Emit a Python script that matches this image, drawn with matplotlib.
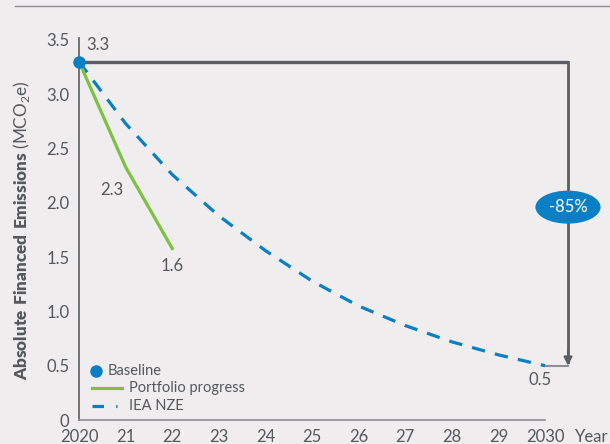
import numpy as np
import matplotlib
matplotlib.use("Agg")
import matplotlib.pyplot as plt
from matplotlib.lines import Line2D

# data
years = [2020, 2021, 2022, 2023, 2024, 2025, 2026, 2027, 2028, 2029, 2030]
xtick_labels = ["2020", "21", "22", "23", "24", "25", "26", "27", "28", "29", "2030"]
iea_nze = [3.3, 2.73, 2.26, 1.88, 1.56, 1.28, 1.05, 0.87, 0.72, 0.60, 0.50]
portfolio_years = [2020, 2021, 2022]
portfolio = [3.3, 2.33, 1.58]
baseline_year = 2020
baseline = 3.3
target = 0.5
reduction_label = "-85%"
yticks = [0, 0.5, 1.0, 1.5, 2.0, 2.5, 3.0, 3.5]
ytick_labels = ["0", "0.5", "1.0", "1.5", "2.0", "2.5", "3.0", "3.5"]
legend_labels = ["Baseline", "Portfolio progress", "IEA NZE"]

bg = "#efedee"
blue = "#0a7fc6"
green = "#7cc142"
dark = "#5a5e61"
text_col = "#55595c"

plt.rcParams['font.family'] = ['Lato', 'DejaVu Sans']
plt.rcParams['mathtext.fontset'] = 'custom'
plt.rcParams['mathtext.rm'] = 'Lato'
plt.rcParams['mathtext.bf'] = 'Lato:heavy'

fig = plt.figure(figsize=(6.1, 4.44), dpi=100, facecolor=bg)
W, H = 610, 444
# axes: x 2020 -> px 79, 1 year = 46.6 px ; y 0 -> px 420, 0.5 = 54.3 px
x0, xmax = 2020, 2031.2
ymax = 3.55
left = 79 / W
width = (xmax - x0) * 46.6 / W
bottom = (H - 420) / H
height = ymax * 108.6 / H
ax = fig.add_axes([left, bottom, width, height], facecolor=bg)
ax.set_xlim(x0, xmax)
ax.set_ylim(0, ymax)
axw, axh = width * W, height * H

def axpos(px, py):
    # pixel position in the picture -> axes fraction
    return (px - 79) / axw, (420 - py) / axh

for s in ["top", "right"]:
    ax.spines[s].set_visible(False)
ax.spines["left"].set_color(dark)
ax.spines["left"].set_linewidth(1.2)
ax.spines["left"].set_bounds(0, 3.52)
ax.spines["bottom"].set_color("#8e9093")
ax.spines["bottom"].set_linewidth(1.2)
ax.spines["bottom"].set_bounds(2020, 2030)

ax.set_xticks(years)
ax.set_xticklabels(xtick_labels)
ax.set_yticks(yticks)
ax.set_yticklabels(ytick_labels)
ax.tick_params(length=0, labelsize=12, colors=text_col, pad=7)
ax.tick_params(axis="x", pad=6.5)

# reduction frame
xr = 2020 + (568 - 79) / 46.6
ax.plot([baseline_year, xr], [baseline, baseline], color=dark, lw=2.4, zorder=2,
        solid_capstyle="butt")
ax.plot([xr, xr], [baseline, target + 0.03], color=dark, lw=2.0, zorder=2)
ax.annotate("", xy=(xr, target), xytext=(xr, target + 0.15),
            arrowprops=dict(arrowstyle="-|>,head_width=0.25,head_length=0.5",
                            color=dark, lw=1.5, shrinkA=0, shrinkB=0), zorder=3)
ax.plot([2030, xr], [target, target], color="#8e9093", lw=1.5, zorder=2)
ax.text(xr, 1.96, reduction_label, color="white", fontsize=12, ha="center", va="center",
        bbox=dict(boxstyle="ellipse,pad=0.22", fc=blue, ec="none"), zorder=5)

# series
ax.plot(years, iea_nze, color=blue, lw=2.3, dashes=(4.2, 3.2), zorder=3)
ax.plot(portfolio_years, portfolio, color=green, lw=2.3, zorder=3)
ax.plot([baseline_year], [baseline], "o", color=blue, ms=8, zorder=4, clip_on=False)

# value labels
ax.text(2020.15, 3.38, "3.3", fontsize=12, color=text_col, ha="left", va="bottom")
ax.text(2020.96, 2.12, "2.3", fontsize=12, color=text_col, ha="right", va="center")
ax.text(2022.0, 1.42, "1.6", fontsize=12, color=text_col, ha="center", va="center")
ax.text(2029.9, 0.37, "0.5", fontsize=12, color=text_col, ha="center", va="center")

# year label
fig.text(575 / W, 1 - 437 / H, "Year", fontsize=12, color=text_col, ha="left", va="center")

# y axis label
fig.text(22 / W, 1 - 230 / H,
         r"$\mathbf{Absolute\ Financed\ Emissions}$ (MCO$_2$e)",
         rotation=90, fontsize=12.3, color=text_col, ha="center", va="center")

# legend, drawn by hand in axes fraction
tr = ax.transAxes
mx, my = axpos(96, 371)
ax.plot([mx], [my], "o", color=blue, ms=8, transform=tr, clip_on=False)
ax.text(*axpos(108, 371), legend_labels[0], fontsize=10.5, color=text_col,
        va="center", transform=tr)
(gx0, gy), (gx1, _) = axpos(92, 388), axpos(122, 388)
ax.plot([gx0, gx1], [gy, gy], color=green, lw=2.3, transform=tr, clip_on=False)
ax.text(*axpos(129, 388), legend_labels[1], fontsize=10.5, color=text_col,
        va="center", transform=tr)
(bx0, by), (bx1, _) = axpos(92, 406), axpos(117, 406)
ax.plot([bx0, bx1], [by, by], color=blue, lw=2.3, dashes=(3.6, 3.8), transform=tr,
        clip_on=False)
ax.text(*axpos(129, 406), legend_labels[2], fontsize=10.5, color=text_col,
        va="center", transform=tr)

# top rule
fig.add_artist(Line2D([15 / W, 1], [1 - 6 / H, 1 - 6 / H], color="#8a8c8e", lw=1.0))

fig.savefig("out.png", dpi=100, facecolor=bg)
